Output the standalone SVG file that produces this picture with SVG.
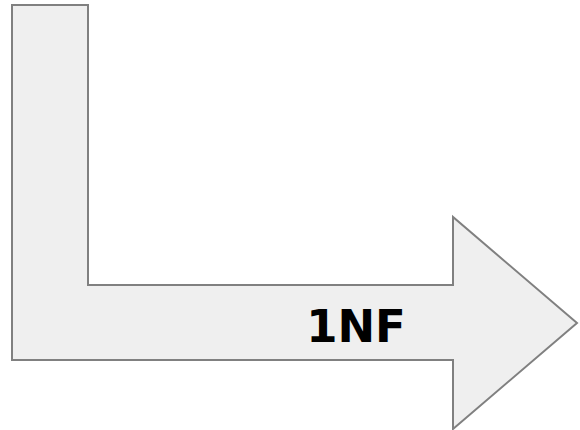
<svg xmlns="http://www.w3.org/2000/svg" width="580" height="430" viewBox="0 0 580 430">
<style>
.shape{fill:#efefef;stroke:#808080;stroke-width:2;stroke-linejoin:miter}
.lbl{font-family:"DejaVu Sans",Verdana,sans-serif;font-weight:bold;font-size:45px;fill:#000}
</style>
<g id="bent-arrow">
<path class="shape" d="M12,5 L88,5 L88,285 L453,285 L453,217 L577,323 L453,429 L453,360 L12,360 Z"/>
<text class="lbl" x="356" y="342" text-anchor="middle">1NF</text>
</g>
</svg>
